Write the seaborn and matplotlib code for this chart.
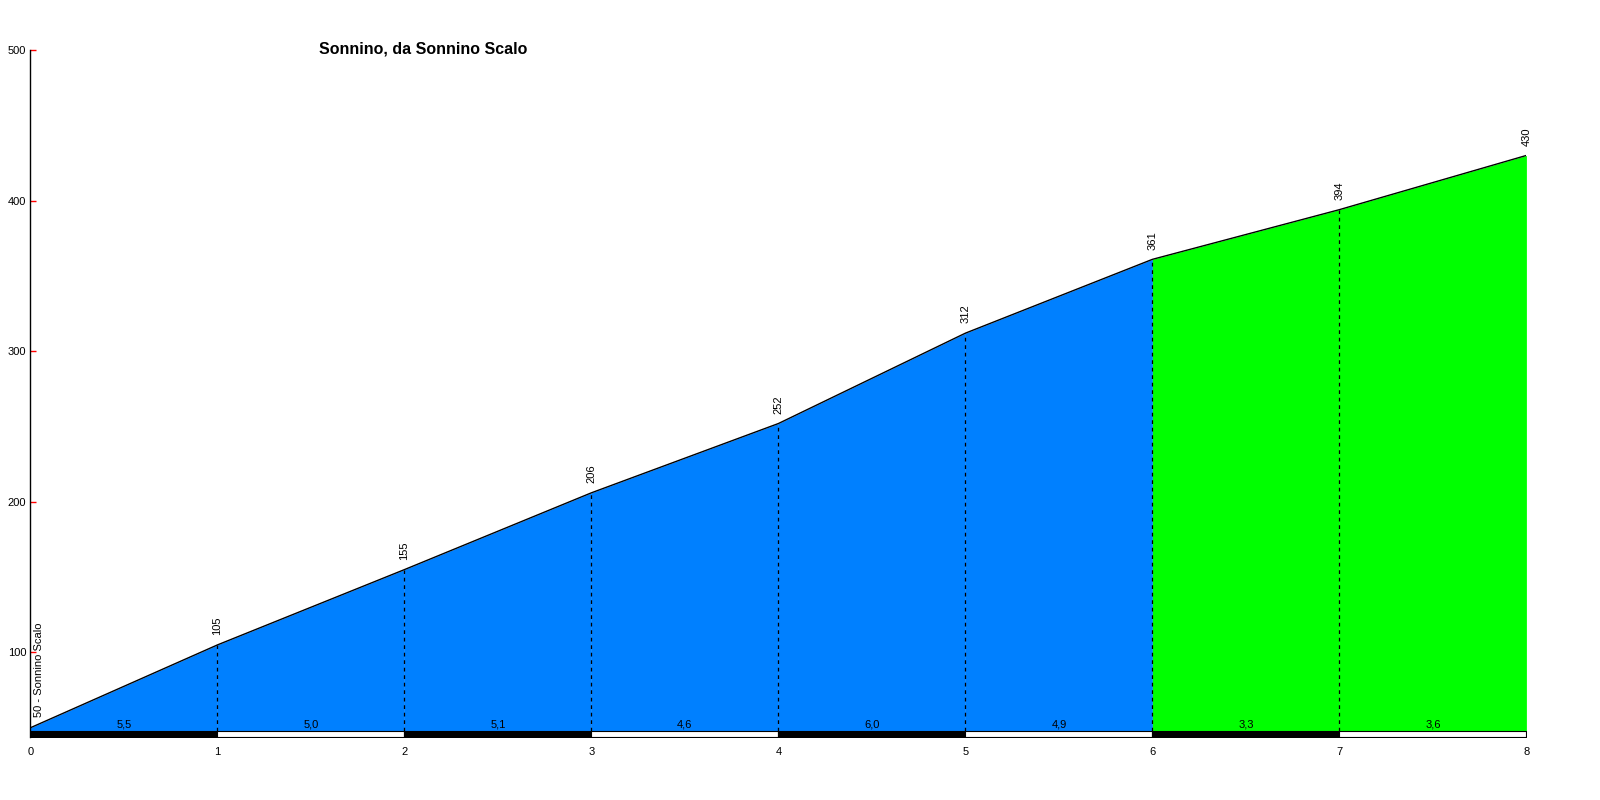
import numpy as np
import pandas as pd
import matplotlib.pyplot as plt
import seaborn as sns

# dati del profilo altimetrico
km = [0, 1, 2, 3, 4, 5, 6, 7, 8]
quota = [50, 105, 155, 206, 252, 312, 361, 394, 430]
pendenze = ['5,5', '5,0', '5,1', '4,6', '6,0', '4,9', '3,3', '3,6']
colori = ['#0080FF', '#0080FF', '#0080FF', '#0080FF', '#0080FF', '#0080FF', '#00FF00', '#00FF00']
titolo = 'Sonnino, da Sonnino Scalo'
partenza = '50 - Sonnino Scalo'

df = pd.DataFrame({'km': km, 'quota': quota})

sns.set_style('white')
plt.rcParams['font.family'] = ['Liberation Sans', 'DejaVu Sans']
plt.rcParams['text.color'] = 'black'
plt.rcParams['xtick.color'] = 'black'
plt.rcParams['ytick.color'] = 'black'

fig = plt.figure(figsize=(16, 8), dpi=100)
ax = fig.add_axes([0.019, 0.079, 0.935, 0.8585])

base = 48
y_min = 44

# riempimento per ogni km
for i in range(len(km) - 1):
    ax.fill_between(km[i:i + 2], [base, base], quota[i:i + 2], color=colori[i], lw=0)

sns.lineplot(data=df, x='km', y='quota', color='black', lw=1, ax=ax)

# linee tratteggiate ai km intermedi
for i in range(1, len(km) - 1):
    ax.plot([km[i], km[i]], [base, quota[i]], color='black', lw=0.9, ls=(0, (3, 3)))

# barra chilometrica alternata
for i in range(len(km) - 1):
    ax.fill_between(km[i:i + 2], [y_min, y_min], [base, base],
                    color='black' if i % 2 == 0 else 'white', edgecolor='black', lw=0.8)
    ax.text((km[i] + km[i + 1]) / 2, base + 0.8, pendenze[i], ha='center', va='bottom', fontsize=8)

# etichette quota
for i in range(1, len(km)):
    ax.annotate(str(quota[i]), (km[i], quota[i]), xytext=(0, 7), textcoords='offset points',
                rotation=90, ha='center', va='bottom', fontsize=8)
ax.annotate(partenza, (km[0], quota[0]), xytext=(6, 8), textcoords='offset points',
            rotation=90, ha='center', va='bottom', fontsize=8)

ax.set_xlim(0, 8)
ax.set_ylim(y_min, 500)
ax.set_xticks(km)
ax.set_xticklabels([str(k) for k in km], fontsize=8)
ax.set_yticks([100, 200, 300, 400, 500])
ax.set_yticklabels(['100', '200', '300', '400', '500'], fontsize=8)
ax.tick_params(axis='y', left=True, direction='in', length=4, color='red', labelcolor='black', width=1, pad=3)
ax.tick_params(axis='x', length=0, pad=7, labelcolor='black')
ax.set_xlabel('')
ax.set_ylabel('')

for s in ['top', 'right']:
    ax.spines[s].set_visible(False)
ax.spines['left'].set_color('black')
ax.spines['bottom'].set_visible(False)
ax.spines['left'].set_linewidth(1)

fig.text(0.2645, 0.939, titolo, ha='center', va='center', fontsize=11.5, fontweight='bold')

plt.savefig('out.png', dpi=100)
